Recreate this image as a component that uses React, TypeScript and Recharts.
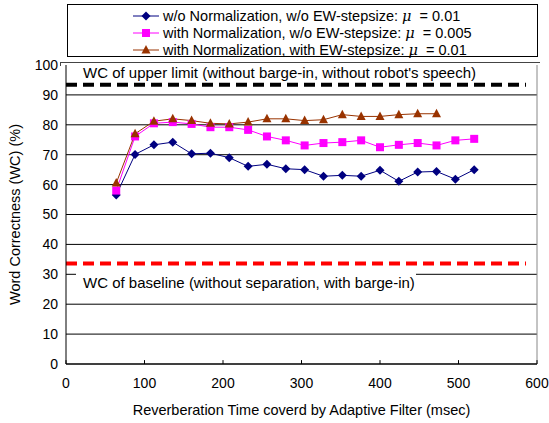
import { LineChart, Line, XAxis, YAxis, CartesianGrid, ReferenceLine, Legend, Label } from 'recharts'

const FONT = '"Liberation Sans", Arial, sans-serif'

// reverberation time covered by the adaptive filter (msec)
const msec = [64, 88, 112, 136, 160, 184, 208, 232, 256, 280, 304, 328, 352, 376, 400, 424, 448, 472, 496, 520]
const woNorm = [56.5, 70.1, 73.3, 74.2, 70.3, 70.5, 69.0, 66.1, 66.8, 65.3, 65.0, 62.8, 63.1, 62.8, 64.8, 61.1, 64.2, 64.4, 61.8, 65.0]
const withNorm = [58.0, 76.1, 80.5, 80.9, 80.3, 79.2, 79.2, 78.3, 76.1, 74.8, 73.1, 73.9, 74.2, 74.8, 72.5, 73.3, 73.9, 73.1, 74.8, 75.3]
const withNormEW = [60.5, 77.0, 81.2, 82.0, 81.4, 80.5, 80.3, 80.9, 82.0, 82.0, 81.4, 81.7, 83.4, 82.8, 82.8, 83.4, 83.7, 83.7]

const upperLimit = 93.4
const baseline = 33.6
const refEnd = 586

const xTicks = [0, 100, 200, 300, 400, 500, 600]
const yTicks = [0, 10, 20, 30, 40, 50, 60, 70, 80, 90, 100]

const SERIES = [
  { key: 'woNorm', color: '#000080', shape: 'diamond', name: 'w/o Normalization, w/o EW-stepsize: ', mu: '0.01' },
  { key: 'withNorm', color: '#FF00FF', shape: 'square', name: 'with Normalization, w/o EW-stepsize: ', mu: '0.005' },
  { key: 'withNormEW', color: '#993300', shape: 'triangle', name: 'with Normalization, with EW-stepsize: ', mu: '0.01' },
]

const data = msec.map((x, i) => ({
  x,
  woNorm: woNorm[i],
  withNorm: withNorm[i],
  withNormEW: withNormEW[i],
}))

function Marker({ cx, cy, shape, color }: { cx: number; cy: number; shape: string; color: string }) {
  if (cx == null || cy == null) return null
  if (shape === 'diamond') {
    return <path d={`M${cx},${cy - 4.5}L${cx + 4.5},${cy}L${cx},${cy + 4.5}L${cx - 4.5},${cy}Z`} fill={color} />
  }
  if (shape === 'square') {
    return <rect x={cx - 4} y={cy - 4} width={8} height={8} fill={color} />
  }
  return <path d={`M${cx},${cy - 5}L${cx + 4.5},${cy + 3.5}L${cx - 4.5},${cy + 3.5}Z`} fill={color} />
}

function LegendBox() {
  return (
    <div style={{ border: '1px solid #000', background: '#fff', height: 53, boxSizing: 'border-box', paddingTop: 2 }}>
      {SERIES.map((s) => (
        <div key={s.key} style={{ display: 'flex', alignItems: 'center', height: 17, paddingLeft: 64, fontFamily: FONT, fontSize: 14.5, color: '#000' }}>
          <svg width={28} height={12} style={{ marginRight: 3 }}>
            <line x1={1} x2={27} y1={6} y2={6} stroke={s.color} strokeWidth={1} />
            <Marker cx={14} cy={6} shape={s.shape} color={s.color} />
          </svg>
          <span style={{ whiteSpace: 'pre' }}>
            {s.name}
            <span style={{ fontStyle: 'italic', fontFamily: '"DejaVu Serif", serif' }}>μ</span>
            {'  = ' + s.mu}
          </span>
        </div>
      ))}
    </div>
  )
}

export default function App() {
  return (
    <div style={{ position: 'absolute', left: 0, top: 0, width: 549, height: 423, background: '#fff' }}>
      <LineChart width={549} height={423} data={data} margin={{ top: 65, right: 12, bottom: 0, left: 0 }}>
        <CartesianGrid horizontal vertical={false} stroke="#000" strokeOpacity={1} />
        <XAxis
          dataKey="x"
          type="number"
          domain={[0, 600]}
          ticks={xTicks}
          height={59}
          tickSize={0}
          tickMargin={14}
          axisLine={{ stroke: '#000' }}
          tick={{ fill: '#000', fontSize: 14, fontFamily: FONT }}
        >
          <Label value="Reverberation Time coverd by Adaptive Filter (msec)" position="insideBottom" offset={8} fill="#000" fontSize={14.5} fontFamily={FONT} />
        </XAxis>
        <YAxis
          type="number"
          domain={[0, 100]}
          ticks={yTicks}
          width={66}
          tickSize={0}
          tickMargin={8}
          axisLine={{ stroke: '#000' }}
          tick={{ fill: '#000', fontSize: 14, fontFamily: FONT }}
        >
          <Label value="Word Correctness (WC) (%)" angle={-90} position="insideLeft" offset={15} fill="#000" fontSize={14.5} fontFamily={FONT} style={{ textAnchor: 'middle' }} />
        </YAxis>
        <ReferenceLine x={600} stroke="#888" />
        {xTicks.map((t) => (
          <ReferenceLine key={t} segment={[{ x: t, y: 0 }, { x: t, y: 1.3 }]} stroke="#000" />
        ))}
        <ReferenceLine
          segment={[{ x: 0, y: upperLimit }, { x: refEnd, y: upperLimit }]}
          stroke="#000"
          strokeWidth={4}
          strokeDasharray="11 6"
        />
        <ReferenceLine
          segment={[{ x: 0, y: baseline }, { x: refEnd, y: baseline }]}
          stroke="#FF0000"
          strokeWidth={4}
          strokeDasharray="11 6"
        />
        {SERIES.map((s) => (
          <Line
            key={s.key}
            dataKey={s.key}
            stroke={s.color}
            strokeWidth={1}
            isAnimationActive={false}
            connectNulls={false}
            dot={(p: any) => <Marker key={`${s.key}-${p.index}`} cx={p.cx} cy={p.cy} shape={s.shape} color={s.color} />}
            activeDot={false}
          />
        ))}
        <g>
          <rect x={61} y={62} width={476} height={18} fill="#fff" />
          <line x1={60} x2={540} y1={62.5} y2={62.5} stroke="#444" />
          <line x1={60.5} x2={60.5} y1={62} y2={66} stroke="#444" />
          <text x={83} y={78} fontSize={15} fontFamily={FONT} fill="#000">
            WC of upper limit (without barge-in, without robot's speech)
          </text>
          <rect x={76} y={272} width={340} height={18} fill="#fff" />
          <text x={83} y={288} fontSize={15} fontFamily={FONT} fill="#000">
            WC of baseline (without separation, with barge-in)
          </text>
        </g>
        <Legend
          layout="vertical"
          align="center"
          verticalAlign="middle"
          content={() => <LegendBox />}
          wrapperStyle={{ position: 'absolute', top: 4, left: 67, width: 471, height: 53 }}
        />
      </LineChart>
    </div>
  )
}
